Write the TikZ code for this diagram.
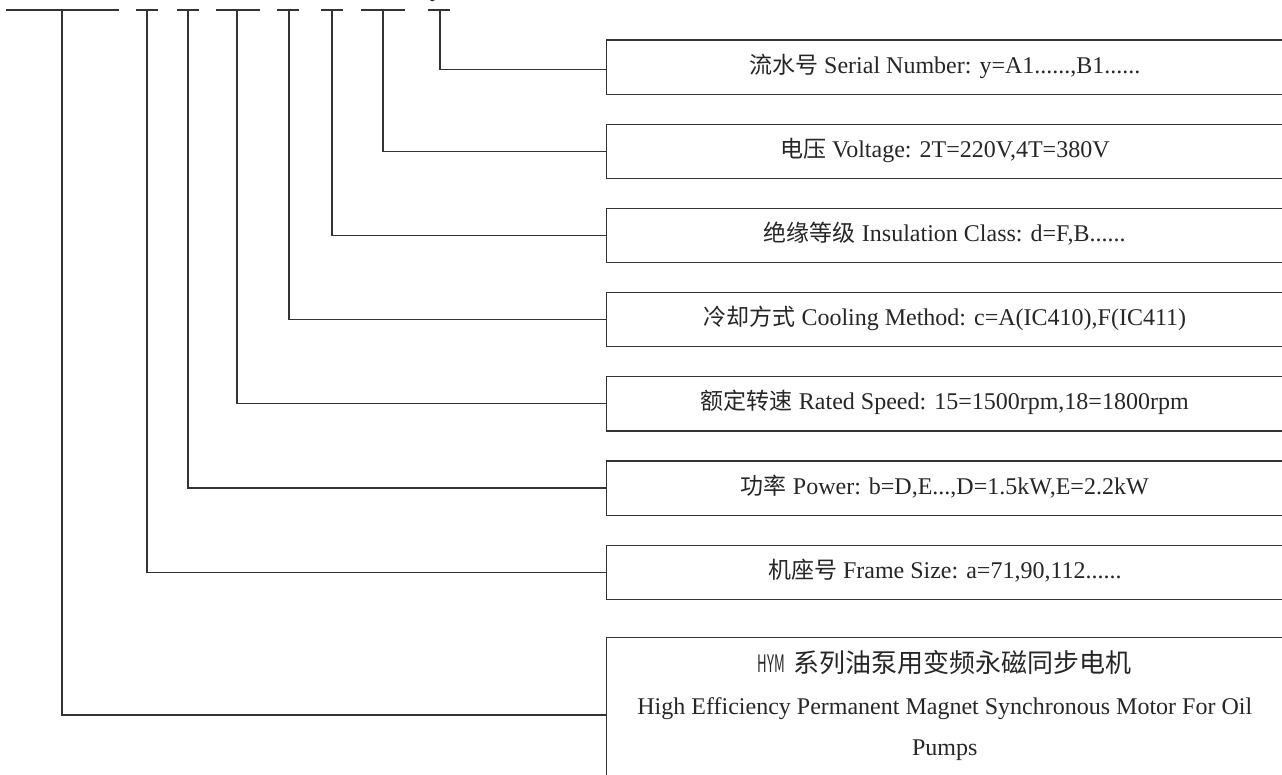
\documentclass[tikz,border=0pt]{standalone}
\usepackage{fontspec}
\setmainfont{Liberation Serif}
\newfontfamily\cjkfont{Noto Sans CJK SC}
\newcommand{\zh}[1]{{\fontsize{23}{28}\cjkfont #1}}
\begin{document}
\begin{tikzpicture}[x=1pt,y=-1pt,
  ln/.style={line width=1.2pt,draw=black!80},
  box/.style={ln,rectangle,anchor=north west,inner sep=0pt,minimum height=54.3pt},
  lbl/.style={font=\fontsize{24}{28}\selectfont,text=black!85,anchor=base,inner sep=0pt}]
\useasboundingbox (0,0) rectangle (1282,774);
% top bars
\foreach \a/\b in {6/119,136/158,177/199,216/260,277/299,321/343,361/405,428/450}
  \draw[ln] (\a,10) -- (\b,10);
\node[lbl] (ylet) at (436,-4) {y};
% boxes
\node[box,minimum width=678.3pt] (b1) at (605.7,39.3) {};
\node[box,minimum width=678.3pt] (b2) at (605.7,123.5) {};
\node[box,minimum width=678.3pt] (b3) at (605.7,207.7) {};
\node[box,minimum width=678.3pt] (b4) at (605.7,291.9) {};
\node[box,minimum width=678.3pt] (b5) at (605.7,376.1) {};
\node[box,minimum width=678.3pt] (b6) at (605.7,460.3) {};
\node[box,minimum width=678.3pt] (b7) at (605.7,544.5) {};
\node[box,minimum width=678.3pt,minimum height=180pt] (b8) at (605.7,636.7) {};
% labels
\node[lbl] (t1) at (944.8,73) {\zh{流水号} Serial Number: y=A1......,B1......};
\node[lbl] (t2) at (944.8,157.2) {\zh{电压} Voltage: 2T=220V,4T=380V};
\node[lbl] (t3) at (944.8,241.4) {\zh{绝缘等级} Insulation Class: d=F,B......};
\node[lbl] (t4) at (944.8,325.6) {\zh{冷却方式} Cooling Method: c=A(IC410),F(IC411)};
\node[lbl] (t5) at (944.8,409.8) {\zh{额定转速} Rated Speed: 15=1500rpm,18=1800rpm};
\node[lbl] (t6) at (944.8,494) {\zh{功率} Power: b=D,E...,D=1.5kW,E=2.2kW};
\node[lbl] (t7) at (944.8,578.2) {\zh{机座号} Frame Size: a=71,90,112......};
\node[lbl] (t8a) at (944.8,672) {{\fontsize{24}{28}\cjkfont\scalebox{0.55}[1]{HYM}\hspace{9pt}\fontsize{26}{30}\selectfont 系列油泵用变频永磁同步电机}};
\node[lbl] (t8b) at (944.8,714.3) {High Efficiency Permanent Magnet Synchronous Motor For Oil};
\node[lbl] (t8c) at (944.8,755) {Pumps};
% connectors
\coordinate (v1) at (440,10);
\coordinate (v2) at (383,10);
\coordinate (v3) at (332,10);
\coordinate (v4) at (289,10);
\coordinate (v5) at (237,10);
\coordinate (v6) at (188,10);
\coordinate (v7) at (147,10);
\coordinate (v8) at (62,10);
\draw[ln] (v1) |- ([yshift=-2.7pt]b1.west);
\draw[ln] (v2) |- (b2.west);
\draw[ln] (v3) |- (b3.west);
\draw[ln] (v4) |- (b4.west);
\draw[ln] (v5) |- (b5.west);
\draw[ln] (v6) |- (b6.west);
\draw[ln] (v7) |- (b7.west);
\draw[ln] (v8) |- (605.7,715) coordinate (c8);
\end{tikzpicture}
\end{document}
